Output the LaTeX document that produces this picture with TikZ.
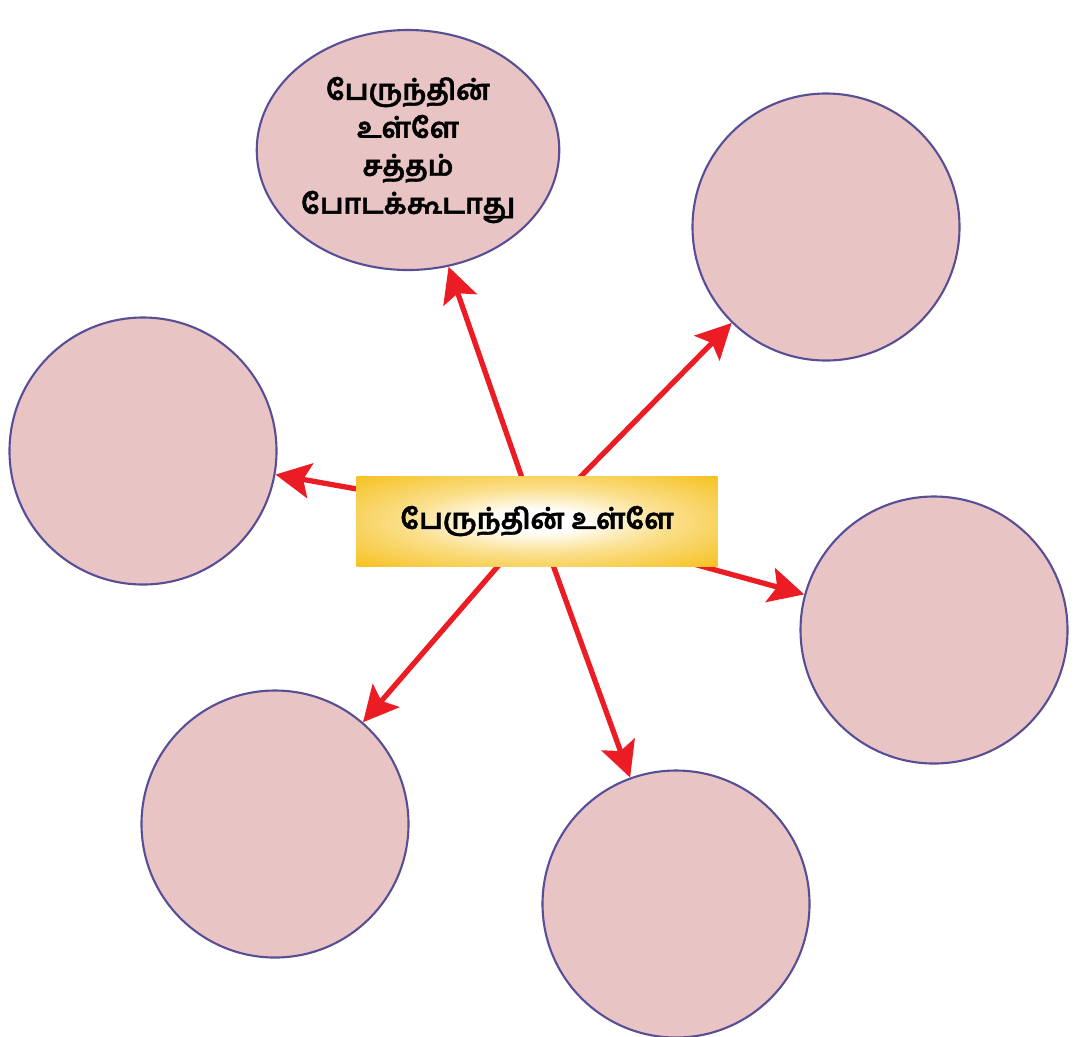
\documentclass[tikz,border=0pt]{standalone}
\usepackage{fontspec}
\newfontfamily\tamil[Script=Tamil,FakeBold=1.4]{Hind Madurai}
\usetikzlibrary{positioning,backgrounds,arrows.meta,shapes.geometric}

\definecolor{bubble}{RGB}{232,196,197}
\definecolor{rim}{RGB}{88,78,150}
\definecolor{arrowred}{RGB}{236,28,36}
\definecolor{gold}{RGB}{246,192,28}
% soft glow for the title box
\pgfdeclareradialshading{glow}{\pgfpoint{0bp}{0bp}}{color(0bp)=(white); color(6bp)=(white); color(18bp)=(gold!50); color(36bp)=(gold); color(50bp)=(gold)}

\begin{document}
\begin{tikzpicture}
[on grid, font=\tamil\bfseries,
bubble/.style={circle, draw=rim, line width=0.6pt, fill=bubble, minimum size=2.67cm, inner sep=0pt},
spoke/.style={draw=arrowred, line width=1.5pt, -{Stealth[length=10pt,width=10pt,inset=2pt]}}]
\useasboundingbox (0,0) rectangle (10.75,-10.36);

\node (bus)[rectangle, minimum width=3.61cm, minimum height=0.9cm, shading=glow, font=\tamil\bfseries\fontsize{8}{10}\selectfont] at (5.37,-5.21) {பேருந்தின் உள்ளே};

\node (c1)[bubble, ellipse, minimum width=2.66cm, minimum height=2.4cm, align=center, font=\tamil\bfseries\fontsize{8}{10.8}\selectfont, above left = 3.71cm and 1.29cm of bus] {பேருந்தின்\\உள்ளே\\சத்தம்\\போடக்கூடாது};
\node (c2)[bubble, above right = 2.94cm and 2.89cm of bus] {};
\node (c3)[bubble, above left = 0.70cm and 3.94cm of bus] {};
\node (c4)[bubble, below right = 1.09cm and 3.97cm of bus] {};
\node (c5)[bubble, below left = 3.03cm and 2.62cm of bus] {};
\node (c6)[bubble, below right = 3.83cm and 1.39cm of bus] {};

\begin{scope}[on background layer]
\foreach \c in {c1,c2,c3,c4,c5,c6}
  \draw[spoke] (bus.center) -- (\c);
\end{scope}

\end{tikzpicture}
\end{document}
